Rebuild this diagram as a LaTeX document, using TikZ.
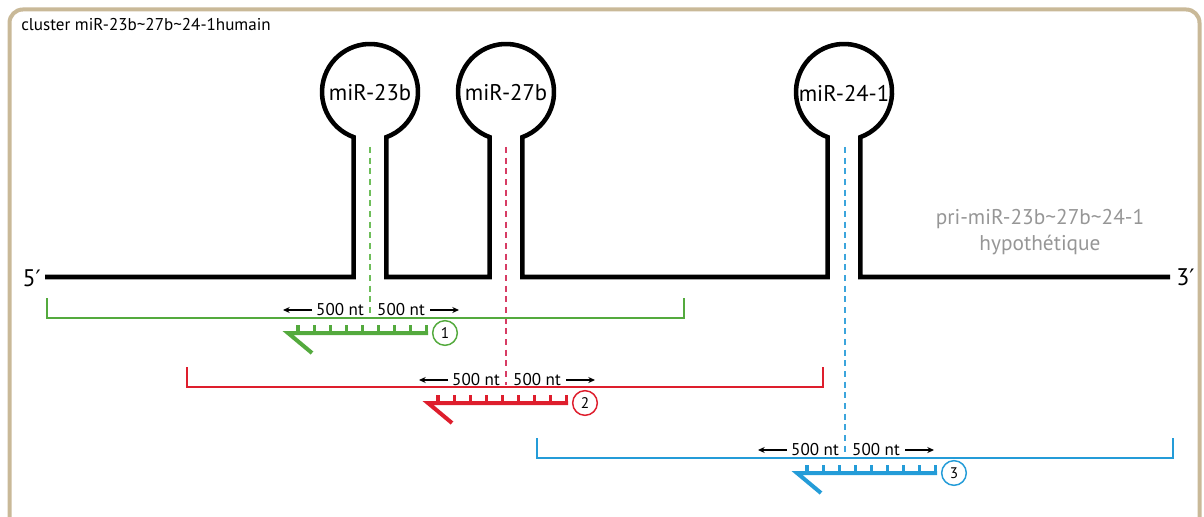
\documentclass[tikz,border=0pt]{standalone}
\usepackage{fontspec}
\setmainfont{PT Sans}
\newfontfamily\primefont{DejaVu Sans}
\usetikzlibrary{arrows.meta}
\definecolor{framec}{RGB}{201,185,152}
\definecolor{gr}{RGB}{84,170,62}
\definecolor{grd}{RGB}{110,190,90}
\definecolor{rd}{RGB}{222,30,45}
\definecolor{rdd}{RGB}{215,60,100}
\definecolor{bl}{RGB}{36,156,216}
\definecolor{bld}{RGB}{60,165,220}
\definecolor{grayt}{RGB}{150,150,150}
\tikzset{
  strand/.style={line width=3.4pt, line join=miter},
  bracketline/.style={line width=2pt},
  guide/.style={line width=1.5pt, dash pattern=on 4.5pt off 3.5pt},
  ntlabel/.style={font=\fontsize{12.8}{15}\selectfont, inner sep=0pt},
  ntarrow/.style={line width=0.8pt, -{Stealth[length=5pt,width=4.5pt]}},
  numcirc/.style={circle, draw, line width=1.1pt, minimum size=18.5pt, inner sep=0pt, text=black, font=\fontsize{11.5}{12}\selectfont},
  mirlabel/.style={font=\fontsize{17}{19}\selectfont, inner sep=0pt},
  endlabel/.style={font=\fontsize{18}{19}\selectfont, inner sep=0pt}
}
% probe: #1 colour, #2 x start, #3 y, #4 number, #5 name
\newcommand\myprobe[5]{%
  \draw[#1, line width=3pt, line cap=butt] (#2+24,-#3-20) -- (#2,-#3) -- (#2+140,-#3);
  \foreach \k in {0,...,8}{\draw[#1, line width=2.4pt] (#2+10+16.1*\k,-#3) -- (#2+10+16.1*\k,-#3+8);}
  \node[numcirc, draw=#1] (#5) at (#2+157,-#3) {#4};
}
% labels: #1 centre x, #2 y, #3 name prefix
\newcommand\mylabels[3]{%
  \node[ntlabel] (#3l) at (#1-30,-#2) {500 nt};
  \node[ntlabel] (#3r) at (#1+31,-#2) {500 nt};
  \coordinate (#3a1) at (#1-58,-#2);
  \coordinate (#3a2) at (#1-87,-#2);
  \coordinate (#3b1) at (#1+60,-#2);
  \coordinate (#3b2) at (#1+89,-#2);
  \draw[ntarrow] (#3a1) -- (#3a2);
  \draw[ntarrow] (#3b1) -- (#3b2);
}
\begin{document}
\begin{tikzpicture}[x=0.75pt,y=0.75pt]
\useasboundingbox (0,0) rectangle (1204,-517);
\begin{scope}
  \clip (0,0) rectangle (1204,-517);
  \draw[framec, line width=3pt, rounded corners=10pt] (9.5,-9.5) rectangle (1199.5,-570);
\end{scope}

\node[anchor=base west, font=\fontsize{12.8}{14}\selectfont, inner sep=0pt] (title) at (21,-31) {cluster miR-23b\textasciitilde 27b\textasciitilde 24-1humain};

% main strand with three stem-loops
\draw[strand] (45,-277) -- (353.6,-277) -- (353.6,-137.1)
  arc[start angle=250, end angle=-70, radius=48] -- (386.4,-277)
  -- (489.6,-277) -- (489.6,-137.1)
  arc[start angle=250, end angle=-70, radius=48] -- (522.4,-277)
  -- (827.6,-277) -- (827.6,-137.1)
  arc[start angle=250, end angle=-70, radius=48] -- (860.4,-277)
  -- (1170,-277);

\node[mirlabel] (m23) at (370,-93) {miR-23b};
\node[mirlabel] (m27) at (506,-93) {miR-27b};
\node[mirlabel] (m24) at (844,-93) {miR-24-1};

\node[endlabel, anchor=base east] (five) at (41,-286) {5{\primefont\fontsize{17}{18}\selectfont ′}};
\node[endlabel, anchor=base west] (three) at (1176,-285) {3{\primefont\fontsize{17}{18}\selectfont ′}};

\node[align=center, text=grayt, font=\fontsize{16}{19}\selectfont, inner sep=0pt] (pri) at (1040,-232) {pri-miR-23b\textasciitilde 27b\textasciitilde 24-1\\hypothétique};

% guide lines
\coordinate (g1) at (370,-147); \coordinate (g2) at (370,-316);
\coordinate (r1) at (506,-147); \coordinate (r2) at (506,-385);
\coordinate (b1) at (845,-147); \coordinate (b2) at (845,-456);
\draw[guide, grd] (g1) -- (g2);
\draw[guide, rdd] (r1) -- (r2);
\draw[guide, bld] (b1) -- (b2);

% brackets
\draw[bracketline, gr] (47,-298) -- (47,-318) -- (684,-318) -- (684,-298);
\draw[bracketline, rd] (187,-367) -- (187,-387) -- (823,-387) -- (823,-367);
\draw[bracketline, bl] (537,-438) -- (537,-458) -- (1173,-458) -- (1173,-438);

\mylabels{370}{310}{g}
\mylabels{506}{380}{r}
\mylabels{845}{450}{b}

\myprobe{gr}{288}{333}{1}{n1}
\myprobe{rd}{428}{403}{2}{n2}
\myprobe{bl}{797}{473}{3}{n3}
\end{tikzpicture}
\end{document}
